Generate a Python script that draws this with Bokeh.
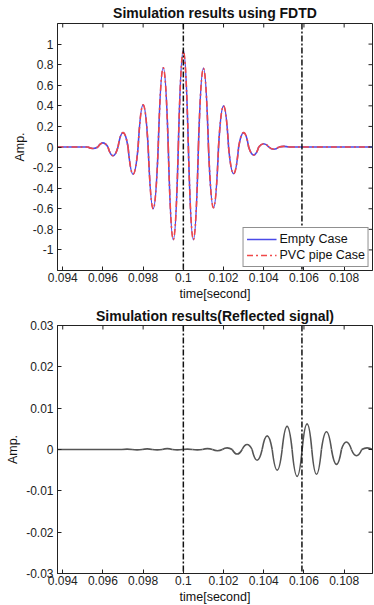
import numpy as np
from bokeh.plotting import figure
from bokeh.models import (ColumnDataSource, Span, FixedTicker, Legend, LegendItem, Range1d, Title)
from bokeh.layouts import column
from bokeh.embed import file_html
from bokeh.resources import INLINE

# ---------------- data ----------------
x_limits = [0.09374, 0.10941]
x_ticks = [0.094, 0.096, 0.098, 0.100, 0.102, 0.104, 0.106, 0.108]
x_tick_labels = ["0.094", "0.096", "0.098", "0.1", "0.102", "0.104", "0.106", "0.108"]

top_y_limits = [-1.2, 1.2]
top_y_ticks = [-1.0, -0.8, -0.6, -0.4, -0.2, 0.0, 0.2, 0.4, 0.6, 0.8, 1.0]
top_y_tick_labels = ["-1", "-0.8", "-0.6", "-0.4", "-0.2", "0", "0.2", "0.4", "0.6", "0.8", "1"]

bottom_y_limits = [-0.03, 0.03]
bottom_y_ticks = [-0.03, -0.02, -0.01, 0.0, 0.01, 0.02, 0.03]
bottom_y_tick_labels = ["-0.03", "-0.02", "-0.01", "0", "0.01", "0.02", "0.03"]

marker_times = [0.1000, 0.1059]

# extrema (time, amplitude) of the transmitted pulse
empty_peak_t = [0.0955, 0.0960, 0.0965, 0.0970, 0.0975, 0.0980, 0.0985, 0.0990, 0.0995, 0.1000,
                0.1005, 0.1010, 0.1015, 0.1020, 0.1025, 0.1030, 0.1035, 0.1040, 0.1045, 0.1050]
empty_peak_amp = [-0.015, 0.04, -0.085, 0.14, -0.265, 0.41, -0.60, 0.77, -0.90, 0.94,
                  -0.90, 0.765, -0.59, 0.40, -0.26, 0.14, -0.078, 0.032, -0.022, 0.006]
pvc_peak_t = [0.0955, 0.0960, 0.0965, 0.0970, 0.0975, 0.0980, 0.0985, 0.0990, 0.0995, 0.1000,
              0.1005, 0.1010, 0.1015, 0.1020, 0.1025, 0.1030, 0.1035, 0.1040, 0.1045, 0.1050]
pvc_peak_amp = [-0.015, 0.04, -0.085, 0.14, -0.265, 0.41, -0.60, 0.77, -0.90, 0.93,
                -0.90, 0.765, -0.59, 0.40, -0.26, 0.14, -0.078, 0.032, -0.022, 0.006]

# extrema of the reflected signal
refl_peak_t = [0.0972, 0.0977, 0.0982, 0.0987, 0.0992, 0.0997, 0.1002, 0.1007, 0.1012, 0.1017,
               0.10218, 0.10268, 0.10317, 0.10367, 0.10417, 0.10467, 0.10516, 0.10566, 0.10616,
               0.10662, 0.10712, 0.10762, 0.10811, 0.10861, 0.10914]
refl_peak_amp = [0.0001, -0.0001, 0.00015, -0.0001, 0.0002, -0.0001, 0.0001, -0.0001, 0.0002, -0.0003,
                 0.0004, -0.0011, 0.0012, -0.0026, 0.0033, -0.0050, 0.0056, -0.0065, 0.0062,
                 -0.0060, 0.0043, -0.0036, 0.0018, -0.0015, 0.0004]

FONT = "Liberation Sans"
W = 374
INK = "#222222"


def hump_source(t, a):
    """Each half-wave is drawn as a quadratic Bezier between zero crossings."""
    t = np.asarray(t, dtype=float)
    a = np.asarray(a, dtype=float)
    mids = (t[:-1] + t[1:]) / 2
    c = np.concatenate([[t[0] - (t[1] - t[0]) / 2], mids, [t[-1] + (t[-1] - t[-2]) / 2]])
    z = np.zeros(len(t))
    src = ColumnDataSource(dict(x0=c[:-1], y0=z, x1=c[1:], y1=z, cx=t, cy=2 * a))
    flat = ColumnDataSource(dict(xs=[[x_limits[0], c[0]], [c[-1], x_limits[1]]], ys=[[0, 0], [0, 0]]))
    return src, flat


def style(p, yticks, ylabels, ylims, title_standoff):
    p.outline_line_color = INK
    p.outline_line_width = 1
    p.xgrid.visible = False
    p.ygrid.visible = False
    p.title.text_font = FONT
    p.title.text_font_size = "14px"
    p.title.text_font_style = "bold"
    p.title.align = "center"
    p.title.standoff = title_standoff
    p.title.text_color = "#111111"

    for ax in (p.xaxis[0], p.yaxis[0]):
        ax.major_tick_in = 4
        ax.major_tick_out = 0
        ax.minor_tick_line_color = None
        ax.major_label_text_font = FONT
        ax.major_label_text_font_size = "12px"
        ax.major_label_text_color = INK
        ax.axis_label_text_font = FONT
        ax.axis_label_text_font_size = "12.5px"
        ax.axis_label_text_font_style = "normal"
        ax.axis_label_text_color = "#111111"
        ax.axis_line_color = INK
        ax.major_tick_line_color = INK
    p.xaxis[0].ticker = FixedTicker(ticks=x_ticks)
    p.xaxis[0].major_label_overrides = dict(zip(x_ticks, x_tick_labels))
    p.xaxis[0].major_label_standoff = 2
    p.yaxis[0].ticker = FixedTicker(ticks=yticks)
    p.yaxis[0].major_label_overrides = dict(zip(yticks, ylabels))
    p.yaxis[0].major_label_standoff = 4
    p.yaxis[0].axis_label_standoff = 3

    # x label as a compact title below the axis
    p.add_layout(Title(text="time[second]", align="center", standoff=0, text_font=FONT,
                       text_font_size="12.5px", text_font_style="normal",
                       text_color="#111111"), "below")

    # inward tick marks on the top and right edges of the box (clipped half-dashes)
    p.scatter(x=x_ticks, y=[ylims[1]] * len(x_ticks), marker="dash", angle=np.pi / 2,
              size=8, line_color=INK, line_width=1)
    p.scatter(x=[x_limits[1]] * len(yticks), y=yticks, marker="dash",
              size=8, line_color=INK, line_width=1)

    for t in marker_times:
        p.add_layout(Span(location=t, dimension="height", line_color="#111111",
                          line_width=1.5, line_dash="6 2 2 2", level="glyph"))


# ---------------- top figure ----------------
p1 = figure(width=W, height=303, output_backend="svg", toolbar_location=None,
            x_range=Range1d(*x_limits), y_range=Range1d(*top_y_limits),
            title="Simulation results using FDTD",
            min_border_left=57, min_border_right=2, min_border_top=23, min_border_bottom=33)
p1.yaxis.axis_label = "Amp."

blue = "#4a4ae8"
red = "#f04848"
e_src, e_flat = hump_source(empty_peak_t, empty_peak_amp)
v_src, v_flat = hump_source(pvc_peak_t, pvc_peak_amp)
r_e = p1.quadratic(x0="x0", y0="y0", x1="x1", y1="y1", cx="cx", cy="cy", source=e_src,
                   line_color=blue, line_width=1.6)
p1.multi_line(xs="xs", ys="ys", source=e_flat, line_color=blue, line_width=1.6)
r_v = p1.quadratic(x0="x0", y0="y0", x1="x1", y1="y1", cx="cx", cy="cy", source=v_src,
                   line_color=red, line_width=1.6, line_dash="6 3 2 3")
p1.multi_line(xs="xs", ys="ys", source=v_flat, line_color=red, line_width=1.6, line_dash="6 3 2 3")

style(p1, top_y_ticks, top_y_tick_labels, top_y_limits, 5)

legend = Legend(items=[LegendItem(label="Empty Case", renderers=[r_e]),
                       LegendItem(label="PVC pipe Case", renderers=[r_v])],
                location="bottom_right", label_text_font=FONT, label_text_font_size="12.5px",
                label_text_color="#111111", border_line_color=INK, border_line_width=1,
                background_fill_alpha=1.0, padding=3, spacing=0, margin=3,
                glyph_width=30, glyph_height=16, label_height=16, label_standoff=3)
p1.add_layout(legend)

# ---------------- bottom figure ----------------
p2 = figure(width=W, height=302, output_backend="svg", toolbar_location=None,
            x_range=Range1d(*x_limits), y_range=Range1d(*bottom_y_limits),
            title="Simulation results(Reflected signal)",
            min_border_left=57, min_border_right=2, min_border_top=20, min_border_bottom=32)
p2.yaxis.axis_label = "Amp."
s_src, s_flat = hump_source(refl_peak_t, refl_peak_amp)
p2.quadratic(x0="x0", y0="y0", x1="x1", y1="y1", cx="cx", cy="cy", source=s_src,
             line_color="#555555", line_width=1.6)
p2.multi_line(xs="xs", ys="ys", source=s_flat, line_color="#555555", line_width=1.6)
style(p2, bottom_y_ticks, bottom_y_tick_labels, bottom_y_limits, 4)

layout = column(p1, p2, spacing=0)
open("out.html", "w").write(file_html(layout, INLINE))
